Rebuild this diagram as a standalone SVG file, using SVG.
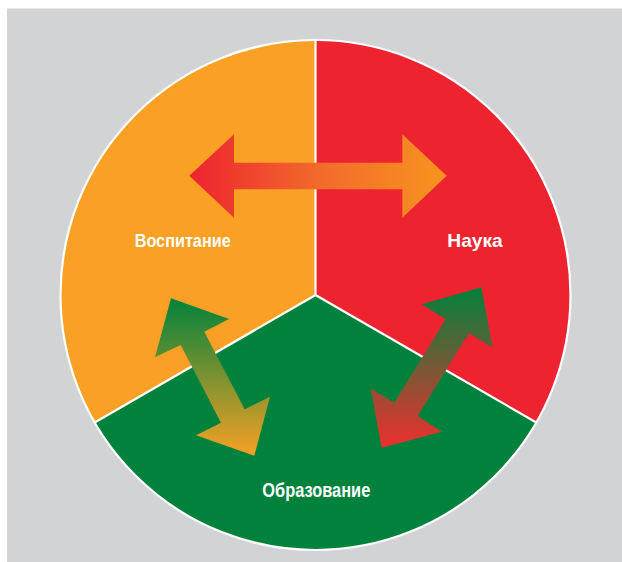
<svg xmlns="http://www.w3.org/2000/svg" width="622" height="562" viewBox="0 0 622 562">
<defs>
<linearGradient id="gH" x1="189" y1="0" x2="447" y2="0" gradientUnits="userSpaceOnUse">
<stop offset="0" stop-color="#ED2330"/>
<stop offset="0.5" stop-color="#F26A2B"/>
<stop offset="1" stop-color="#F7941F"/>
</linearGradient>
<linearGradient id="gL" x1="0" y1="298" x2="0" y2="456" gradientUnits="userSpaceOnUse">
<stop offset="0" stop-color="#00823C"/>
<stop offset="1" stop-color="#F7A124"/>
</linearGradient>
<linearGradient id="gR" x1="0" y1="287" x2="0" y2="448" gradientUnits="userSpaceOnUse">
<stop offset="0" stop-color="#00823C"/>
<stop offset="1" stop-color="#EE2F2E"/>
</linearGradient>
<style>
.sep{stroke:#FFFFFF;stroke-width:2.2;fill:none}
.lbl{font-family:"Liberation Sans Narrow","Liberation Sans",Arial,sans-serif;font-weight:bold;fill:#FFFFFF;font-size:19px}
</style>
</defs>
<rect x="7" y="8.5" width="615" height="553.5" fill="#D1D3D4"/>
<g id="sectors">
<g id="vospitanie">
<path d="M315.5 295 L315.5 40 A255 255 0 0 0 94.7 422.5 Z" fill="#F9A025"/>
</g>
<g id="nauka">
<path d="M315.5 295 L315.5 40 A255 255 0 0 1 536.3 422.5 Z" fill="#EE2330"/>
</g>
<g id="obrazovanie">
<path d="M315.5 295 L536.3 422.5 A255 255 0 0 1 94.7 422.5 Z" fill="#00823C"/>
</g>
<circle cx="315.5" cy="295" r="255" class="sep"/>
<path d="M315.5 40 L315.5 295 L94.7 422.5 M315.5 295 L536.3 422.5" class="sep"/>
</g>
<g id="connectors">
<polygon id="arrow-top" points="189.3,175.8 234,134.3 234,162.7 402.3,162.7 402.3,134.3 446.7,175.8 402.3,217.7 402.3,189.3 234,189.3 234,217.7" fill="url(#gH)"/>
<polygon id="arrow-left" points="171,298.3 229,319 204.3,331.7 244.7,409.3 270,396.7 254.3,455.7 196,435.3 221,422.7 180.7,345 155,357.3" fill="url(#gL)"/>
<polygon id="arrow-right" points="481.3,287.3 492.7,347.7 469,333.3 417.7,416 441.7,431.7 381.7,447.7 370.7,388.3 394.3,402.7 445.7,319.3 421.7,304.3" fill="url(#gR)"/>
</g>
<g id="labels">
<text class="lbl" x="134.7" y="247" textLength="96" lengthAdjust="spacingAndGlyphs">Воспитание</text>
<text class="lbl" x="447.3" y="247" textLength="55.4" lengthAdjust="spacingAndGlyphs">Наука</text>
<text class="lbl" x="262.3" y="496.7" textLength="108" lengthAdjust="spacingAndGlyphs" style="font-size:20px">Образование</text>
</g>
</svg>
